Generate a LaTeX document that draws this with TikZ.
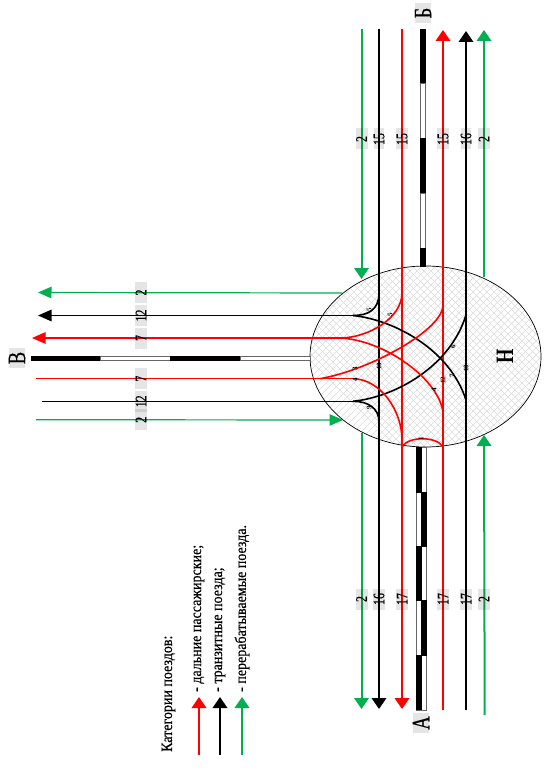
\documentclass[tikz,border=0pt]{standalone}
\usepackage{fontspec}
\usepackage{graphicx}
\setmainfont{Liberation Serif}
\newfontfamily\lblfont[FakeBold=0.5]{Liberation Serif}
\usetikzlibrary{arrows.meta}
\definecolor{tgreen}{RGB}{0,176,80}
\definecolor{tred}{RGB}{255,0,0}
\newcommand\sq[1]{\scalebox{0.74}[1]{#1}}
\newcommand\tallq[1]{\scalebox{1}[1.12]{#1}}
\tikzset{
  x=1pt,y=-1pt,
  vtip/.style={-{Triangle[length=11pt,width=14.5pt]}},
  htip/.style={-{Triangle[length=13.5pt,width=11.5pt]}},
  thickline/.style={line width=2pt},
  thinline/.style={line width=1.2pt},
  curveline/.style={line width=1.6pt},
  numlabel/.style={rotate=90,fill=black,fill opacity=0.1,text opacity=1,inner sep=0pt,minimum width=21pt,minimum height=12pt,font=\fontsize{16}{16}\lblfont},
  narrowlabel/.style={numlabel,minimum height=7pt},
  leaflabel/.style={rotate=90,inner sep=0pt,font=\fontsize{7}{7}\selectfont\bfseries},
  letterlabel/.style={rotate=90,fill=black,fill opacity=0.1,text opacity=1,inner sep=0pt,minimum width=20pt,minimum height=12pt,font=\fontsize{25}{25}\lblfont},
  legendtext/.style={rotate=90,anchor=west,inner sep=0pt,font=\fontsize{14}{14}\lblfont},
  trackblack/.style={fill=black,draw=black,line width=0.4pt},
  trackwhite/.style={fill=white,draw=black!60,line width=0.6pt},
}
\begin{document}
\begin{tikzpicture}
\useasboundingbox (0,0) rectangle (545,778);
% station hatch and outline
\begin{scope}
  \clip (425.5,356.5) ellipse [x radius=115.5pt,y radius=90.5pt];
  \foreach \i in {200,207,...,800} {
    \draw[black!14,line width=0.6pt] (\i,250) -- ++(210,210);
    \draw[black!14,line width=0.6pt] (\i,250) -- ++(-210,210);
  }
\end{scope}
\draw[black,line width=0.7pt] (425.5,356.5) ellipse [x radius=115.5pt,y radius=90.5pt];

% tracks: top (Б)
\foreach \a/\b/\s in {29/83/trackblack,83/138/trackwhite,138/193/trackblack,193/248/trackwhite,248/266/trackblack}
  \path[\s] (420.5,\a) rectangle (425.5,\b);
% tracks: left (В)
\foreach \a/\b/\s in {31/100/trackblack,100/170/trackwhite,170/240/trackblack,240/310/trackwhite}
  \path[\s] (\a,356) rectangle (\b,360);
% tracks: bottom (А), two halves
\path[trackwhite] (416,447) rectangle (426,710);
\foreach \a/\b/\l in {447/492/416,492/546/421,546/600/416,600/655/421,655/709/416}
  \path[trackblack] (\l,\a) rectangle ({\l+5},\b);

% named ends
\coordinate (gTL) at (361.5,29);   \coordinate (gTLe) at (361.5,279);
\coordinate (kT)  at (379,29);     \coordinate (kB) at (379,709);
\coordinate (rT)  at (402,29);     \coordinate (rB) at (402,709);
\coordinate (gBLs) at (361.5,433); \coordinate (gBL) at (361.5,709);
\coordinate (r2B) at (443,710);    \coordinate (r2T) at (443,30);
\coordinate (k2B) at (466,710);    \coordinate (k2T) at (466,31);
\coordinate (gBRs) at (484.7,715); \coordinate (gBRe) at (484,435);
\coordinate (gTRs) at (484,277);   \coordinate (gTR) at (484,30);
\coordinate (hg1s) at (342,293);   \coordinate (hg1) at (38,292.5);
\coordinate (hg2s) at (36,419.7);  \coordinate (hg2) at (343,420);
\coordinate (hk1) at (38,315.5);   \coordinate (jk1) at (353,315.5);
\coordinate (hr1) at (32,338);     \coordinate (jr1) at (340,338);
\coordinate (hr2) at (36,378.7);   \coordinate (jr2) at (320,378.7); \coordinate (jr3) at (353,378.7);
\coordinate (hk2) at (42,401.3);   \coordinate (jk2) at (353,401.3);

% vertical lines
\draw[tgreen,thickline,vtip] (gTL) -- (gTLe);
\draw[tgreen,thickline,vtip] (gBLs) -- (gBL);
\draw[black,thickline,vtip] (kT) -- (kB);
\draw[tred,thickline,vtip] (rT) -- (rB);
\draw[tred,thickline,vtip] (r2B) -- (r2T);
\draw[black,thickline,vtip] (k2B) -- (k2T);
\draw[tgreen,thickline,vtip] (gBRs) -- (gBRe);
\draw[tgreen,thickline,vtip] (gTRs) -- (gTR);

% horizontal lines
\draw[tgreen,thinline,htip] (hg1s) -- (hg1);
\draw[tgreen,thinline,htip] (hg2s) -- (hg2);
\draw[black,thinline,htip] (jk1) -- (hk1);
\draw[tred,thinline,htip] (jr1) -- (hr1);
\draw[tred,thinline] (hr2) -- (jr2);
\draw[tred,thinline] (jr2) -- (jr3);
\draw[black,thinline] (hk2) -- (jk2);

% junction curves
\draw[black,curveline] (jk1) .. controls (368,315.5) and (379,310) .. (379,293);
\draw[black,curveline] (jk2) .. controls (368,401.3) and (379,408) .. (379,422);
\draw[black,curveline] (jk1) .. controls (395,320) and (450,350) .. (466,400);
\draw[black,curveline] (jk2) .. controls (395,397) and (450,367) .. (466,315);
\draw[tred,curveline] (jr1) .. controls (368,338) and (402,318) .. (402,293);
\draw[tred,curveline] (jr1) .. controls (385,340) and (440,380) .. (443,413);
\draw[tred,curveline] (jr2) .. controls (370,370) and (443,330) .. (443,305);
\draw[tred,curveline] (jr3) .. controls (380,379) and (402,410) .. (402,440);
\draw[tred,curveline] (402,447) .. controls (408,436) and (437,436) .. (443,447);

% number labels
\foreach \nm/\x/\t/\st in {a1/361.5/2/numlabel,a2/379/15/narrowlabel,a3/402/15/numlabel,a4/443/15/numlabel,a5/466/16/narrowlabel,a6/484/2/numlabel}
  \node[\st] (\nm) at (\x,139) {\sq{\t}};
\foreach \nm/\x/\t/\st in {b1/361.5/2/numlabel,b2/379/16/numlabel,b3/402/17/numlabel,b4/443/17/numlabel,b5/466/17/numlabel,b6/484/2/numlabel}
  \node[\st] (\nm) at (\x,599) {\sq{\t}};
\foreach \nm/\y/\t in {c1/292.5/2,c2/315.5/12,c3/338/7,c4/378.7/7,c5/401.3/12,c6/419.8/2}
  \node[numlabel] (\nm) at (141,\y) {\sq{\t}};

% small labels in station
\foreach \nm/\x/\y/\t in {s1/369/310/5,s2/390/315/5,s3/355/369/3,s4/355/380/4,s5/379/366/10,s6/369/408/9,s7/443/380/12,s8/453/347/6,s9/452/376/7,s10/434/390/4,s11/466/368/10,s12/421/439/1}
  \node[leaflabel] (\nm) at (\x,\y) {\t};

% letters
\node[letterlabel] (lB) at (423,13) {\sq{Б}};
\node[letterlabel] (lV) at (17,358) {\sq{В}};
\node[letterlabel] (lA) at (421,723) {\sq{А}};
\node[rotate=90,inner sep=0pt,font=\fontsize{25}{25}\selectfont\bfseries] (lN) at (505,356.5) {\sq{Н}};

% legend
\node[legendtext] (t0) at (168.5,752) {\tallq{Категории поездов:}};
\node[legendtext] (t1) at (199,692) {\tallq{- дальние пассажирские;}};
\node[legendtext] (t2) at (220,692) {\tallq{- транзитные поезда;}};
\node[legendtext] (t3) at (242,692) {\tallq{- перерабатываемые поезда.}};
\coordinate (l1s) at (199,755); \coordinate (l1e) at (199,697);
\coordinate (l2s) at (220,755); \coordinate (l2e) at (220,697);
\coordinate (l3s) at (242,755); \coordinate (l3e) at (242,697);
\draw[tred,thickline,vtip] (l1s) -- (l1e);
\draw[black,thickline,vtip] (l2s) -- (l2e);
\draw[tgreen,thickline,vtip] (l3s) -- (l3e);
\end{tikzpicture}
\end{document}
